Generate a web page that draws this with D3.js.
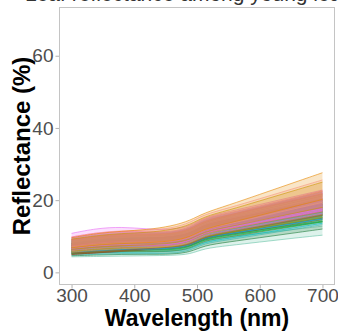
<!DOCTYPE html>
<html>
<head>
<meta charset="utf-8">
<script src="https://cdn.jsdelivr.net/npm/d3@7"></script>
<style>
  html, body { margin: 0; padding: 0; background: #fff; }
  svg { display: block; }
</style>
</head>
<body>
<svg id="chart" width="338" height="333"></svg>
<script>
// Wavelengths (nm) at which each sample's reflectance band is recorded
const wavelengths = [300, 340, 380, 420, 460, 490, 510, 550, 600, 650, 700];

// Per-sample reflectance bands (%): lower and upper edge at each wavelength
const sampleNames = ["S01","S02","S03","S04","S05","S06","S07","S08","S09","S10","S11","S12",
                     "S13","S14","S15","S16","S17","S18","S19","S20","S21","S22","S23","S24"];
const sampleColors = ["#66C2A5","#1E7B3A","#35B8B0","#00BFC4","#B2182B","#8C510A",
                      "#5E8C31","#00BA38","#8B8B4B","#6A8CC2","#00A9FF","#A0522D",
                      "#A3A500","#7CAE00","#F8766D","#9590FF","#D8A05A","#D16A8A",
                      "#FF62BC","#C77CFF","#E76BF3","#FB9A99","#C49A00","#E58700"];
const lowerBand = [
  [4.3,4.4,4.5,4.6,4.7,5.0,6.6,7.4,8.4,9.4,10.3],
  [4.6,4.8,5.0,5.0,5.0,5.6,7.4,8.4,9.6,10.8,12.0],
  [4.8,5.0,5.2,5.2,5.2,6.0,8.0,9.0,10.4,11.8,13.2],
  [5.2,5.4,5.6,5.6,5.8,6.4,8.4,9.4,10.8,12.2,13.6],
  [5.0,5.4,5.8,6.2,6.6,7.4,9.6,10.8,12.2,13.6,15.0],
  [5.0,5.4,6.0,6.4,6.6,7.2,9.4,10.4,11.8,13.2,14.6],
  [5.2,5.6,5.8,5.8,5.8,6.6,8.8,9.8,11.2,12.6,14.0],
  [5.4,5.8,6.2,6.2,6.2,7.0,9.2,10.2,11.4,12.8,14.0],
  [5.4,5.8,6.2,6.4,6.6,7.4,9.8,11.0,12.6,14.2,15.8],
  [5.8,6.2,6.6,6.6,6.8,7.6,10.0,11.2,12.8,14.4,16.0],
  [5.6,6.0,6.4,6.4,6.6,7.4,9.6,10.6,12.0,13.4,14.8],
  [5.4,5.6,6.0,6.6,7.0,7.6,9.8,11.0,12.6,14.2,15.8],
  [5.8,6.4,6.8,6.8,7.0,7.8,10.0,11.0,12.4,13.8,15.2],
  [6.0,6.6,7.0,7.0,7.2,8.2,10.6,11.8,13.4,15.0,16.6],
  [6.0,6.6,7.0,7.0,7.2,8.0,10.2,11.4,13.0,14.6,16.2],
  [6.2,6.8,7.2,7.2,7.4,8.2,10.4,11.6,13.2,14.8,16.4],
  [5.6,6.2,6.6,6.8,7.2,8.2,10.6,12.0,13.8,15.6,17.4],
  [6.2,7.0,7.4,7.4,7.6,8.6,11.0,12.2,13.8,15.4,17.0],
  [6.6,7.4,7.6,7.5,7.6,8.6,11.0,12.2,13.8,15.4,17.0],
  [6.6,7.4,7.8,7.6,7.8,8.8,11.2,12.4,14.0,15.6,17.2],
  [7.2,8.2,8.6,8.3,8.4,9.4,11.6,12.8,14.4,16.0,17.6],
  [7.0,7.8,8.2,8.2,8.6,9.6,12.0,13.4,15.4,17.4,19.4],
  [6.4,7.0,7.4,7.6,8.0,9.0,11.2,12.6,14.4,16.2,18.0],
  [6.8,7.6,8.0,8.2,8.6,9.8,12.0,13.6,15.8,18.0,20.2]
];
const upperBand = [
  [6.4,6.6,6.8,6.6,6.4,7.2,9.0,9.8,10.8,11.8,12.8],
  [6.8,7.0,7.2,7.0,7.0,7.8,9.6,10.6,11.8,13.0,14.2],
  [7.0,7.4,7.6,7.6,7.6,8.6,10.8,11.8,13.2,14.6,16.0],
  [7.8,8.2,8.4,8.4,8.4,9.2,11.4,12.6,14.0,15.4,16.8],
  [7.4,8.0,8.8,9.2,9.4,10.4,12.8,14.0,15.6,17.2,18.8],
  [8.0,8.8,9.4,9.6,9.8,10.8,13.2,14.6,16.4,18.2,20.0],
  [8.0,8.6,9.0,8.8,8.8,9.8,12.0,13.2,14.8,16.4,18.0],
  [8.6,9.2,9.6,9.6,9.6,10.6,13.0,14.2,15.8,17.6,19.4],
  [8.2,8.8,9.2,9.2,9.4,10.6,13.0,14.4,16.2,18.0,19.8],
  [8.8,9.6,10.0,10.0,10.2,11.2,13.6,15.0,16.8,18.6,20.4],
  [8.4,9.0,9.4,9.4,9.6,10.4,12.6,13.8,15.4,17.0,18.6],
  [7.6,8.2,8.8,9.4,9.8,10.8,13.2,14.6,16.4,18.2,20.0],
  [9.2,10.0,10.6,10.6,10.6,11.6,14.0,15.4,17.2,19.2,21.2],
  [9.0,9.8,10.2,10.2,10.4,11.6,14.0,15.6,17.6,19.6,21.6],
  [9.0,10.0,10.4,10.4,10.6,11.8,14.2,15.8,17.8,19.8,21.8],
  [9.4,10.4,10.8,10.8,11.0,12.0,14.6,16.0,18.0,20.0,22.2],
  [8.4,9.4,10.0,10.2,10.6,11.8,14.2,15.8,18.0,20.2,22.4],
  [9.0,10.0,10.6,10.6,10.8,12.0,14.4,15.8,17.8,19.8,21.8],
  [9.8,11.0,11.4,11.2,11.2,12.4,15.0,16.4,18.4,20.4,22.6],
  [9.6,10.6,11.2,11.0,11.0,12.2,14.8,16.2,18.2,20.2,22.2],
  [10.8,12.2,12.6,12.0,11.8,12.8,15.2,16.8,18.8,20.8,22.8],
  [9.8,11.0,11.6,11.6,12.2,13.8,16.0,17.8,20.4,23.0,25.6],
  [9.2,10.2,10.8,11.0,11.8,13.2,15.4,17.2,19.8,22.4,25.0],
  [9.6,10.8,11.4,11.8,12.8,14.4,16.4,18.6,21.6,24.6,27.6]
];

// Axis ticks
const xTicks = [300, 400, 500, 600, 700];
const yTicks = [0, 20, 40, 60];

const svg = d3.select("#chart");
const panel = { left: 59, right: 335, top: 7, bottom: 285 };
const font = "Liberation Sans, Arial, sans-serif";

const x = d3.scaleLinear().domain([280, 720]).range([panel.left, panel.right]);
const y = d3.scaleLinear().domain([-3.5, 73.5]).range([panel.bottom, panel.top]);

// Title (runs off the top edge)
svg.append("text")
  .attr("x", 25).attr("y", 1)
  .attr("font-family", font)
  .attr("font-size", 21)
  .attr("fill", "#333")
  .text("Leaf reflectance among young leaf samples by family");

// Bands
const series = sampleNames.map((name, i) => ({
  name, color: sampleColors[i],
  pts: wavelengths.map((w, j) => ({ w, lo: lowerBand[i][j], hi: upperBand[i][j] }))
}));

const area = d3.area()
  .x(d => x(d.w)).y0(d => y(d.lo)).y1(d => y(d.hi))
  .curve(d3.curveBasis);
const loLine = d3.line().x(d => x(d.w)).y(d => y(d.lo)).curve(d3.curveBasis);
const hiLine = d3.line().x(d => x(d.w)).y(d => y(d.hi)).curve(d3.curveBasis);

const g = svg.append("g");
series.forEach(s => {
  g.append("path").attr("d", area(s.pts))
    .attr("fill", s.color).attr("fill-opacity", 0.22);
  g.append("path").attr("d", loLine(s.pts))
    .attr("fill", "none").attr("stroke", s.color).attr("stroke-width", 0.7).attr("stroke-opacity", 0.85);
  g.append("path").attr("d", hiLine(s.pts))
    .attr("fill", "none").attr("stroke", s.color).attr("stroke-width", 0.7).attr("stroke-opacity", 0.85);
});

// Panel border
svg.append("rect")
  .attr("x", panel.left + 0.5).attr("y", panel.top + 0.5)
  .attr("width", panel.right - panel.left - 1).attr("height", panel.bottom - panel.top - 1)
  .attr("fill", "none").attr("stroke", "#c4c4c4").attr("stroke-width", 1);

// Axes
const xAxis = svg.append("g").attr("transform", `translate(0,${panel.bottom})`)
  .call(d3.axisBottom(x).tickValues(xTicks).tickSize(3.5).tickPadding(0));
const yAxis = svg.append("g").attr("transform", `translate(${panel.left},0)`)
  .call(d3.axisLeft(y).tickValues(yTicks).tickSize(3.5).tickPadding(2));
[xAxis, yAxis].forEach(a => {
  a.select(".domain").remove();
  a.selectAll(".tick line").attr("stroke", "#b3b3b3");
  a.selectAll(".tick text")
    .attr("font-family", font)
    .attr("font-size", 19).attr("fill", "#4d4d4d");
});

// Axis titles
svg.append("text")
  .attr("x", (panel.left + panel.right) / 2).attr("y", 326)
  .attr("text-anchor", "middle")
  .attr("font-family", font)
  .attr("font-weight", "bold").attr("font-size", 23).attr("fill", "#000")
  .text("Wavelength (nm)");
svg.append("text")
  .attr("transform", `translate(29.5,${(panel.top + panel.bottom) / 2}) rotate(-90)`)
  .attr("text-anchor", "middle")
  .attr("font-family", font)
  .attr("font-weight", "bold").attr("font-size", 24).attr("fill", "#000")
  .text("Reflectance (%)");
</script>
</body>
</html>
